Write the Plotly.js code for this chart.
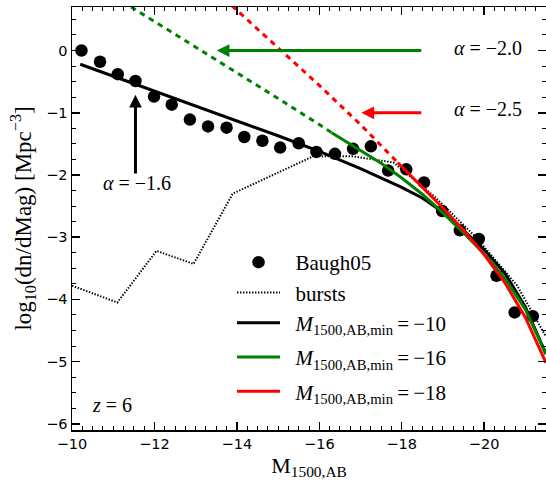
<!DOCTYPE html>
<html>
<head>
<meta charset="utf-8">
<script src="https://cdn.plot.ly/plotly-3.0.1.min.js"></script>
<style>
  html, body { margin: 0; padding: 0; background: #ffffff; }
  #chart { width: 546px; height: 483px; }
</style>
</head>
<body>
<div id="chart"></div>
<script>
// Baugh et al. (2005) model luminosity function at z = 6
const baughMag = [-10.23, -10.68, -11.11, -11.54, -11.99, -12.42, -12.86, -13.30, -13.75,
                  -14.18, -14.62, -15.05, -15.50, -15.93, -16.38, -16.82, -17.25, -17.67,
                  -18.11, -18.54, -18.98, -19.41, -19.87, -20.30, -20.74, -21.18];
const baughLogPhi = [0.00, -0.18, -0.38, -0.49, -0.74, -0.87, -1.11, -1.22, -1.24,
                     -1.39, -1.45, -1.56, -1.49, -1.63, -1.66, -1.58, -1.54, -1.93,
                     -1.91, -2.12, -2.58, -2.89, -3.03, -3.62, -4.21, -4.27];

// starburst contribution
const burstMag = [-10.0, -11.1, -12.05, -12.95, -13.9, -14.9, -15.85, -16.8, -17.8,
                  -18.8, -19.8, -20.8, -21.5];
const burstLogPhi = [-3.78, -4.05, -3.22, -3.43, -2.30, -1.99, -1.70, -1.70, -1.80,
                     -2.35, -3.00, -3.78, -4.60];

// Schechter fits, alpha = -1.6, faint limit -10
const fitMag10 = [-10.2, -11.0, -12.0, -13.0, -14.0, -15.0, -16.0, -17.0, -18.0,
                  -18.5, -19.0, -19.5, -20.0, -20.5, -21.0, -21.5];
const fitLogPhi10 = [-0.22, -0.41, -0.65, -0.89, -1.13, -1.37, -1.62, -1.90, -2.20,
                     -2.37, -2.60, -2.89, -3.20, -3.58, -4.12, -4.88];

// alpha = -2.0, fitted brighter than -16, extrapolated fainter
const fitMag16 = [-16.3, -17.0, -17.5, -18.0, -18.5, -19.0, -19.5, -20.0, -20.5, -21.0, -21.5];
const fitLogPhi16 = [-1.32, -1.61, -1.81, -2.05, -2.31, -2.61, -2.93, -3.27, -3.66, -4.16, -4.88];
const extMag16 = [-11.0, -12.0, -13.0, -14.0, -15.0, -16.0, -16.3];
const extLogPhi16 = [0.88, 0.47, 0.06, -0.35, -0.77, -1.19, -1.32];

// alpha = -2.5, fitted brighter than -18, extrapolated fainter
const fitMag18 = [-17.9, -18.5, -19.0, -19.5, -20.0, -20.5, -21.0, -21.5];
const fitLogPhi18 = [-1.80, -2.19, -2.53, -2.89, -3.28, -3.73, -4.29, -5.02];
const extMag18 = [-13.5, -14.0, -15.0, -16.0, -17.0, -17.9];
const extLogPhi18 = [0.95, 0.65, 0.05, -0.56, -1.19, -1.80];

// axis ticks
const xTickVals = [-10, -12, -14, -16, -18, -20];
const xTickText = ['\u221210', '\u221212', '\u221214', '\u221216', '\u221218', '\u221220'];
const yTickVals = [-6, -5, -4, -3, -2, -1, 0];
const yTickText = ['\u22126', '\u22125', '\u22124', '\u22123', '\u22122', '\u22121', '0'];

const SERIF = 'Liberation Serif, DejaVu Serif, serif';
const SANS = 'DejaVu Sans, sans-serif';
const GREEN = '#008000';
const RED = '#ff0000';
const LEG_PAD = '\u2002';

const traces = [
  {
    x: baughMag, y: baughLogPhi, type: 'scatter', mode: 'markers',
    name: LEG_PAD + 'Baugh05', legendgroup: 'a',
    marker: { color: 'black', size: 12.5 }
  },
  {
    x: burstMag, y: burstLogPhi, type: 'scatter', mode: 'lines',
    name: LEG_PAD + 'bursts', legendgroup: 'a',
    line: { color: 'black', width: 2, dash: '1.4px,1.6px' }
  },
  {
    x: fitMag10, y: fitLogPhi10, type: 'scatter', mode: 'lines',
    name: LEG_PAD + '<i>M</i><sub>1500,AB,min</sub>\u2009=\u2009\u221210', legendgroup: 'a',
    line: { color: 'black', width: 3 }
  },
  {
    x: fitMag16, y: fitLogPhi16, type: 'scatter', mode: 'lines',
    name: LEG_PAD + '<i>M</i><sub>1500,AB,min</sub>\u2009=\u2009\u221216', legendgroup: 'b',
    line: { color: GREEN, width: 3 }
  },
  {
    x: fitMag18, y: fitLogPhi18, type: 'scatter', mode: 'lines',
    name: LEG_PAD + '<i>M</i><sub>1500,AB,min</sub>\u2009=\u2009\u221218', legendgroup: 'c',
    line: { color: RED, width: 3 }
  },
  {
    x: extMag16, y: extLogPhi16, type: 'scatter', mode: 'lines', showlegend: false,
    line: { color: GREEN, width: 3, dash: '5.5px,5px' }
  },
  {
    x: extMag18, y: extLogPhi18, type: 'scatter', mode: 'lines', showlegend: false,
    line: { color: RED, width: 3, dash: '5.5px,5px' }
  }
];

const axisCommon = {
  showgrid: false, zeroline: false,
  showline: true, linecolor: 'black', linewidth: 1.5, mirror: 'allticks',
  ticks: 'inside', ticklen: 8, tickwidth: 1.5, tickcolor: 'black',
  tickfont: { family: SANS, size: 14.5, color: 'black' },
  tickmode: 'array'
};

const arrow = (x, y, ax, ay, color) => ({
  x: x, y: y, ax: ax, ay: ay, xref: 'x', yref: 'y', axref: 'x', ayref: 'y',
  text: '', showarrow: true, arrowhead: 2, arrowsize: 0.85, arrowwidth: 3,
  arrowcolor: color, standoff: 0, startstandoff: 0
});
const label = (x, y, text, size) => ({
  x: x, y: y, xref: 'x', yref: 'y', text: text, showarrow: false,
  xanchor: 'center', yanchor: 'middle',
  font: { family: SERIF, size: size, color: 'black' }
});

const layout = {
  width: 546, height: 483,
  margin: { l: 72, r: 0, t: 7, b: 53 },
  paper_bgcolor: 'white', plot_bgcolor: 'white',
  showlegend: true,
  legend: {
    x: 0.3376, y: 0.4444, xanchor: 'left', yanchor: 'top',
    bgcolor: 'rgba(0,0,0,0)', borderwidth: 0,
    font: { family: SERIF, size: 21, color: 'black' },
    itemwidth: 43, tracegroupgap: 4, traceorder: 'grouped'
  },
  xaxis: Object.assign({}, axisCommon, {
    range: [-10, -21.5],
    tickvals: xTickVals, ticktext: xTickText,
    minor: { tickmode: 'linear', tick0: -10, dtick: 0.25, ticks: 'inside',
             ticklen: 4, tickwidth: 1, tickcolor: 'black', showgrid: false },
    title: { text: 'M<sub>1500,AB</sub>', font: { family: SERIF, size: 22, color: 'black' }, standoff: 6 }
  }),
  yaxis: Object.assign({}, axisCommon, {
    range: [-6.1, 0.7],
    tickvals: yTickVals, ticktext: yTickText,
    minor: { tickmode: 'linear', tick0: 0, dtick: 0.25, ticks: 'inside',
             ticklen: 4, tickwidth: 1, tickcolor: 'black', showgrid: false },
    title: { text: 'log<sub>10</sub>(dn/dMag) [Mpc<sup>\u22123</sup>]', font: { family: SERIF, size: 23, color: 'black' }, standoff: 8 }
  }),
  annotations: [
    arrow(-11.54, -0.71, -11.54, -2.0, 'black'),
    arrow(-13.51, 0.0, -18.51, 0.0, GREEN),
    arrow(-17.02, -1.0, -18.51, -1.0, RED),
    label(-11.57, -2.13, '<i>\u03b1</i> = \u22121.6', 20),
    label(-20.10, 0.04, '<i>\u03b1</i> = \u22122.0', 20),
    label(-20.10, -0.94, '<i>\u03b1</i> = \u22122.5', 20),
    label(-10.98, -5.70, '<i>z</i> = 6', 20)
  ]
};

Plotly.newPlot('chart', traces, layout, { staticPlot: true, displayModeBar: false });
</script>
</body>
</html>
